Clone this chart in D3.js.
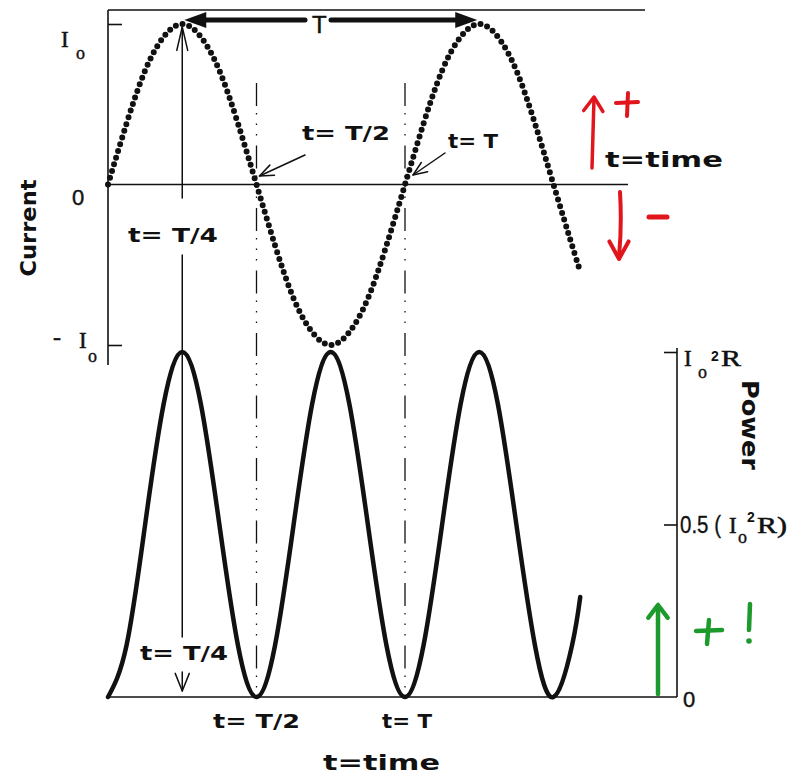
<!DOCTYPE html>
<html>
<head>
<meta charset="utf-8">
<script src="https://cdn.jsdelivr.net/npm/d3@7"></script>
<style>
  body { margin: 0; background: #fff; }
  svg { display: block; }
</style>
</head>
<body>
<div id="chart"></div>
<script>
// time in periods (T), current in units of I_o, power in units of I_o^2 R
const times   = [0, 0.0625, 0.125, 0.1875, 0.25, 0.3125, 0.375, 0.4375, 0.5, 0.5625, 0.625, 0.6875, 0.75,
                 0.8125, 0.875, 0.9375, 1, 1.0625, 1.125, 1.1875, 1.25, 1.3125, 1.375, 1.4375, 1.5, 1.5625, 1.59];
const current = [0, 0.38, 0.71, 0.92, 1, 0.92, 0.71, 0.38, 0, -0.38, -0.71, -0.92, -1,
                 -0.92, -0.71, -0.38, 0, 0.38, 0.71, 0.92, 1, 0.92, 0.71, 0.38, 0, -0.38, -0.54];
const power   = [0, 0.15, 0.5, 0.85, 1, 0.85, 0.5, 0.15, 0, 0.15, 0.5, 0.85, 1,
                 0.85, 0.5, 0.15, 0, 0.15, 0.5, 0.85, 1, 0.85, 0.5, 0.15, 0, 0.15, 0.29];
const currentTicks = [-1, 1];
const powerTicks = [0.5, 1];
const markTimes = [0.5, 1];          // dash-dot guides at T/2 and T
const quarter = 0.25, periodEnd = 1.25;

const W = 812, H = 776;
const INK = '#111', RED = '#e0161c', GREEN = '#1c9a2c';
const SANS = "'DejaVu Sans', sans-serif", HELV = "'Liberation Sans', Arial, sans-serif", SERIF = "'Liberation Serif', 'Times New Roman', serif";

const svg = d3.select('#chart').append('svg').attr('width', W).attr('height', H);
const x = d3.scaleLinear().domain([0, 1]).range([108, 405]);
const yI = d3.scaleLinear().domain([-1, 1]).range([345, 24]);
const yP = d3.scaleLinear().domain([0, 1]).range([697, 352]);

// frame lines
const frame = svg.append('g').attr('stroke', INK).attr('stroke-width', 1.6).attr('fill', 'none');
frame.append('line').attr('x1', x(0)).attr('x2', 645).attr('y1', 10).attr('y2', 10);
frame.append('line').attr('x1', x(0)).attr('x2', x(0)).attr('y1', 10).attr('y2', 365);
frame.append('line').attr('x1', x(0)).attr('x2', 628).attr('y1', yI(0)).attr('y2', yI(0));
frame.append('line').attr('x1', 110).attr('x2', 677).attr('y1', yP(0)).attr('y2', yP(0));
frame.append('line').attr('x1', 677).attr('x2', 677).attr('y1', 348).attr('y2', yP(0));

const tickStyle = g => { g.select('.domain').remove(); g.selectAll('line').attr('stroke', INK).attr('stroke-width', 1.6); };
svg.append('g').attr('transform', `translate(${x(0)},0)`)
  .call(d3.axisRight(yI).tickValues(currentTicks).tickSize(14).tickFormat('')).call(tickStyle);
svg.append('g').attr('transform', 'translate(677,0)')
  .call(d3.axisLeft(yP).tickValues(powerTicks).tickSize(13).tickFormat('')).call(tickStyle);

// dash-dot guides
svg.append('g').selectAll('line').data(markTimes).join('line')
  .attr('x1', d => x(d)).attr('x2', d => x(d)).attr('y1', 83).attr('y2', yP(0))
  .attr('stroke', INK).attr('stroke-width', 1.3).attr('stroke-dasharray', '23 7 1.5 9 1.5 9 1.5 10');

// curves
const pts = times.map((t, i) => ({ t, i: current[i], p: power[i] }));
svg.append('path').datum(pts)
  .attr('d', d3.line().x(d => x(d.t)).y(d => yI(d.i)).curve(d3.curveNatural))
  .attr('fill', 'none').attr('stroke', INK).attr('stroke-width', 6)
  .attr('stroke-linecap', 'round').attr('stroke-dasharray', '0 7');
svg.append('path').datum(pts)
  .attr('d', d3.line().x(d => x(d.t)).y(d => yP(d.p)).curve(d3.curveNatural))
  .attr('fill', 'none').attr('stroke', INK).attr('stroke-width', 4.5).attr('stroke-linecap', 'round');

// arrow helpers
function vHead(g, tx, ty, ang, len, spread, color, w) {
  const a1 = ang + Math.PI - spread, a2 = ang + Math.PI + spread;
  g.append('path')
    .attr('d', `M${tx + len * Math.cos(a1)},${ty + len * Math.sin(a1)}L${tx},${ty}L${tx + len * Math.cos(a2)},${ty + len * Math.sin(a2)}`)
    .attr('fill', 'none').attr('stroke', color).attr('stroke-width', w).attr('stroke-linecap', 'round').attr('stroke-linejoin', 'round');
}
function seg(g, x1, y1, x2, y2, color, w) {
  g.append('line').attr('x1', x1).attr('y1', y1).attr('x2', x2).attr('y2', y2)
    .attr('stroke', color).attr('stroke-width', w).attr('stroke-linecap', 'round');
}
function pointer(g, x1, y1, tx, ty) {
  seg(g, x1, y1, tx, ty, INK, 1.5);
  vHead(g, tx, ty, Math.atan2(ty - y1, tx - x1), 15, 0.38, INK, 1.5);
}

const ann = svg.append('g');
// t = T/4 marker through both panels
const xq = x(quarter);
seg(ann, xq, yI(1) + 3, xq, 198, INK, 1.5);
vHead(ann, xq, yI(1) + 3, -Math.PI / 2, 24, 0.23, INK, 1.5);
seg(ann, xq, 255, xq, 637, INK, 1.5);
seg(ann, xq, 672, xq, 691, INK, 1.5);
vHead(ann, xq, 691, Math.PI / 2, 19, 0.38, INK, 1.5);

// period arrow T
const tY = 20, xa = x(quarter) + 2, xb = x(periodEnd) - 2;
seg(ann, xa + 18, tY, 305, tY, INK, 5);
seg(ann, 331, tY, xb - 18, tY, INK, 5);
ann.append('path').attr('d', `M${xa},${tY}L${xa + 22},${tY - 8}L${xa + 22},${tY + 8}Z`).attr('fill', INK);
ann.append('path').attr('d', `M${xb},${tY}L${xb - 22},${tY - 8}L${xb - 22},${tY + 8}Z`).attr('fill', INK);

// pointers to the zero crossings
pointer(ann, 305, 155, x(0.5) + 3, 176);
pointer(ann, 445, 153, x(1) + 8, 175);

// red direction marks
seg(ann, 592, 168, 594, 98, RED, 3.5);
vHead(ann, 594, 97, -Math.PI / 2 + 0.05, 17, 0.6, RED, 3.5);
seg(ann, 616, 103, 638, 102, RED, 4);
seg(ann, 628, 93, 627, 116, RED, 4);
ann.append('path').attr('d', 'M620,192 Q622,225 619,257').attr('fill', 'none').attr('stroke', RED).attr('stroke-width', 4).attr('stroke-linecap', 'round');
vHead(ann, 619, 259, Math.PI / 2, 20, 0.5, RED, 4);
seg(ann, 649, 217, 667, 217, RED, 5);

// green mark
seg(ann, 658, 694, 658, 608, GREEN, 4.5);
vHead(ann, 658, 605, -Math.PI / 2, 16, 0.65, GREEN, 4.5);
seg(ann, 696, 631, 722, 630, GREEN, 4.5);
seg(ann, 709, 620, 707, 644, GREEN, 4.5);
seg(ann, 750, 604, 749, 630, GREEN, 4.5);
ann.append('circle').attr('cx', 749).attr('cy', 641).attr('r', 2.8).attr('fill', GREEN);

// text
const txt = (px, py, s, o = {}) => {
  const t = svg.append('text').attr('x', px).attr('y', py).text(s)
    .attr('font-family', o.family || SANS).attr('font-size', o.size || 19)
    .attr('font-weight', o.weight || 'normal').attr('fill', o.fill || INK)
    .attr('text-anchor', o.anchor || 'start');
  if (o.len) t.attr('textLength', o.len).attr('lengthAdjust', 'spacingAndGlyphs');
  if (o.rot) t.attr('transform', `rotate(${o.rot},${px},${py})`);
  if (o.heavy) t.attr('stroke', INK).attr('stroke-width', o.heavy);
  return t;
};
const B = { weight: 'bold', size: 19 };
const S = { family: SERIF, size: 23, heavy: 0.5 };
const Sub = { family: SERIF, size: 18, heavy: 0.4 };

txt(x(quarter) + 137, 33, 'T', { family: HELV, size: 24, anchor: 'middle', heavy: 0.5 });
txt(128, 242, 't= T/4', { ...B, len: 90 });
txt(302, 140, 't= T/2', { ...B, len: 88 });
txt(448, 148, 't= T', { ...B, len: 50 });
txt(140, 660, 't= T/4', { ...B, len: 88 });
txt(213, 728, 't= T/2', { ...B, len: 87 });
txt(382, 728, 't= T', { ...B, len: 50 });
txt(605, 167, 't=time', { weight: 'bold', size: 22, len: 118 });
txt(323, 770, 't=time', { weight: 'bold', size: 22, len: 117 });

txt(36, 228, 'Current', { weight: 'bold', size: 22, anchor: 'middle', rot: -90, len: 97 });
txt(742, 425, 'Power', { weight: 'bold', size: 23, anchor: 'middle', rot: 90, len: 90 });

// left axis labels
txt(61, 47, 'I', S);
txt(76, 59, 'o', Sub);
txt(72, 205, '0', { family: HELV, size: 22, heavy: 0.4 });
txt(53, 345, '-', { ...S, size: 24 });
txt(79, 348, 'I', S);
txt(88, 362, 'o', Sub);

// right axis labels
txt(684, 366, 'I', S);
txt(698, 378, 'o', Sub);
txt(711, 361, '2', { family: HELV, size: 14, weight: 'bold' });
txt(721, 366, 'R', { ...S, len: 20 });
txt(680, 533, '0.5 (', { family: HELV, size: 23, heavy: 0.3, len: 41 });
txt(729, 533, 'I', S);
txt(738, 543, 'o', Sub);
txt(747, 522, '2', { family: HELV, size: 14, weight: 'bold' });
txt(757, 533, 'R)', { ...S, len: 30 });
txt(683, 707, '0', { family: HELV, size: 22, heavy: 0.4 });
</script>
</body>
</html>
